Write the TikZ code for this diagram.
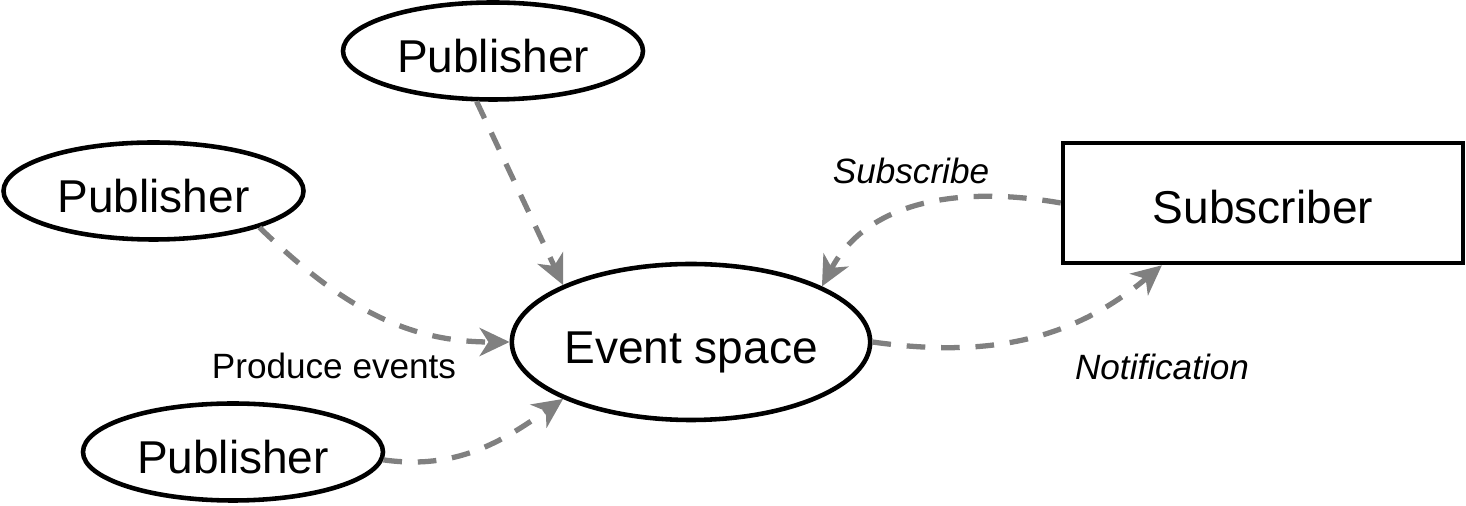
\documentclass[tikz,border=0pt]{standalone}
\usepackage{fontspec}
\setmainfont{Liberation Sans}
\usetikzlibrary{positioning,arrows.meta,calc,shapes.geometric}

\begin{document}
\begin{tikzpicture}[font=\fontsize{13.1}{15}\selectfont]
  \tikzstyle{pub}=[ellipse,draw,line width=1.3pt,inner sep=0pt,text height=12pt,text depth=0pt,minimum width=3cm,minimum height=0.97cm]
  \tikzstyle{space}=[ellipse,draw,line width=1.3pt,inner sep=0pt,text height=12pt,text depth=0pt,minimum width=3.58cm,minimum height=1.56cm]
  \tikzstyle{box}=[rectangle,draw,line width=1.3pt,inner sep=0pt,text height=11.5pt,text depth=0pt,minimum width=4cm,minimum height=1.2cm]
  \tikzstyle{flow}=[draw=gray,line width=1.5pt,dash pattern=on 5.3pt off 4.5pt,-{Stealth[length=8.5pt,width=8pt,inset=2.5pt]}]
  \tikzstyle{lbl}=[font=\fontsize{10}{12}\selectfont]
  \useasboundingbox (0,0) rectangle (14.66,-5.06);
  \node[space] (es) at (6.91,-3.42) {Event space};
  \node[pub] (p1) at (4.93,-0.51) {Publisher};
  \node[pub] (p2) at (1.535,-1.91) {Publisher};
  \node[pub] (p3) at (2.33,-4.52) {Publisher};
  \node[box] (sub) at (12.63,-2.03) {Subscriber};
  \node[lbl] (prod) at (3.34,-3.66) {Produce events};
  \node[lbl] (subs) at (9.11,-1.71) {\itshape Subscribe};
  \node[lbl] (note) at (11.62,-3.67) {\itshape Notification};
  \draw[flow] (p1.-108) -- (es.156);
  \draw[flow] (p2.-19) to[out=-44,in=180] (es.west);
  \draw[flow] (p3.-3) to[out=-8,in=215] (es.-156);
  \draw[flow] (sub.west) to[out=170,in=62] (es.23);
  \draw[flow] (es.east) to[out=-8,in=220] ($(sub.south west)!0.25!(sub.south east)$);
\end{tikzpicture}
\end{document}
